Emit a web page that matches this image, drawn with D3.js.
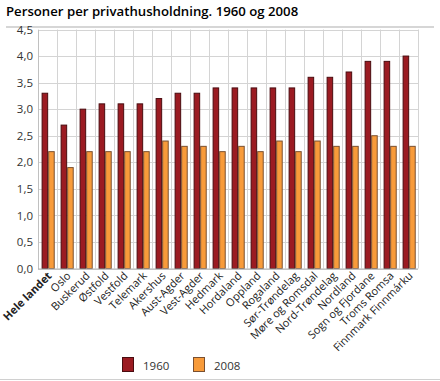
<!DOCTYPE html>
<html><head><meta charset="utf-8">
<script src="https://cdn.jsdelivr.net/npm/d3@7"></script>
<style>body{margin:0;background:#fff}svg{display:block}text{font-family:"Open Sans",sans-serif}</style>
</head><body><svg id="c" width="440" height="381"></svg>
<script>
const categories = ["Hele landet","Oslo","Buskerud","Østfold","Vestfold","Telemark","Akershus","Aust-Agder","Vest-Agder","Hedmark","Hordaland","Oppland","Rogaland","Sør-Trøndelag","Møre og Romsdal","Nord-Trøndelag","Nordland","Sogn og Fjordane","Troms Romsa","Finnmark Finnmárku"];
const series = ["1960","2008"];
const values1960 = [3.3,2.7,3.0,3.1,3.1,3.1,3.2,3.3,3.3,3.4,3.4,3.4,3.4,3.4,3.6,3.6,3.7,3.9,3.9,4.0];
const values2008 = [2.2,1.9,2.2,2.2,2.2,2.2,2.4,2.3,2.3,2.2,2.3,2.2,2.4,2.2,2.4,2.3,2.3,2.5,2.3,2.3];
const yTicks = [0,0.5,1,1.5,2,2.5,3,3.5,4,4.5];
const colors = ["#9b1b22","#f89b3a"];

const svg = d3.select("#c");
const L = 38, R = 418, T = 29.5, B = 268.5;
const x0 = d3.scaleBand().domain(categories).range([L,R]).padding(0);
const x1 = d3.scaleBand().domain(series).range([x0.bandwidth()*0.19, x0.bandwidth()*0.88]).padding(0);
const y = d3.scaleLinear().domain([0,4.5]).range([B,T]);

// title
svg.append("text").attr("x",6).attr("y",16).attr("font-size",13.2).attr("font-weight",600).attr("fill","#000")
  .text("Personer per privathusholdning. 1960 og 2008");
svg.append("line").attr("x1",6).attr("x2",434).attr("y1",27).attr("y2",27).attr("stroke","#c8c8c8").attr("stroke-width",1.5);

// grid
const g = svg.append("g");
g.selectAll(".hg").data(yTicks).join("line").attr("x1",L).attr("x2",R)
  .attr("y1",d=>Math.round(y(d))+0.5).attr("y2",d=>Math.round(y(d))+0.5).attr("stroke","#d4d4d4");
const vx = categories.map(c=>x0(c)).concat([R]);
g.selectAll(".vg").data(vx).join("line").attr("x1",d=>Math.round(d)+0.5).attr("x2",d=>Math.round(d)+0.5)
  .attr("y1",T).attr("y2",B).attr("stroke","#d4d4d4");

// y axis
const ya = svg.append("g").attr("transform",`translate(${L},0)`)
  .call(d3.axisLeft(y).tickValues(yTicks).tickSize(0).tickPadding(5).tickFormat(d=>d3.format(".1f")(d).replace(".",",")));
ya.select(".domain").attr("stroke","#c0c0c0");
ya.selectAll("text").attr("font-size",11.5).attr("fill","#333").attr("font-family","Open Sans, sans-serif");

// bars
const data = categories.map((c,i)=>({c, v:[values1960[i],values2008[i]]}));
const grp = svg.append("g").selectAll("g").data(data).join("g").attr("transform",d=>`translate(${x0(d.c)},0)`);
grp.selectAll("rect").data(d=>series.map((s,j)=>({s,v:d.v[j],j}))).join("rect")
  .attr("x",d=>x1(d.s)+0.5).attr("width",x1.bandwidth()-1)
  .attr("y",d=>y(d.v)).attr("height",d=>B-y(d.v))
  .attr("fill",d=>colors[d.j]).attr("stroke",d=>d.j?"#7a5030":"#4a0c10").attr("stroke-width",1);

// baseline
svg.append("line").attr("x1",L).attr("x2",R).attr("y1",B+0.5).attr("y2",B+0.5).attr("stroke","#b0b0b0");

// x labels
const xa = svg.append("g").attr("transform",`translate(0,${B})`)
  .call(d3.axisBottom(x0).tickSize(0).tickPadding(0));
xa.select(".domain").remove();
xa.selectAll("text").attr("font-size",11).attr("fill","#222").attr("font-family","Open Sans, sans-serif")
  .attr("text-anchor","end").attr("dy",0).attr("y",0)
  .attr("transform","translate(5,8) rotate(-45)")
  .attr("font-weight",d=>d==="Hele landet"?700:400);

// legend
const lg = svg.append("g");
const lx = [122,193];
series.forEach((s,i)=>{
  lg.append("rect").attr("x",lx[i]+0.5).attr("y",357.5).attr("width",11).attr("height",14).attr("fill",colors[i]).attr("stroke",i?"#7a5030":"#4a0c10");
  lg.append("text").attr("x",lx[i]+21).attr("y",370).attr("font-size",11.5).attr("fill","#333").text(s);
});
svg.append("line").attr("x1",0).attr("x2",440).attr("y1",379.5).attr("y2",379.5).attr("stroke","#d0d0d0");
</script></body></html>
